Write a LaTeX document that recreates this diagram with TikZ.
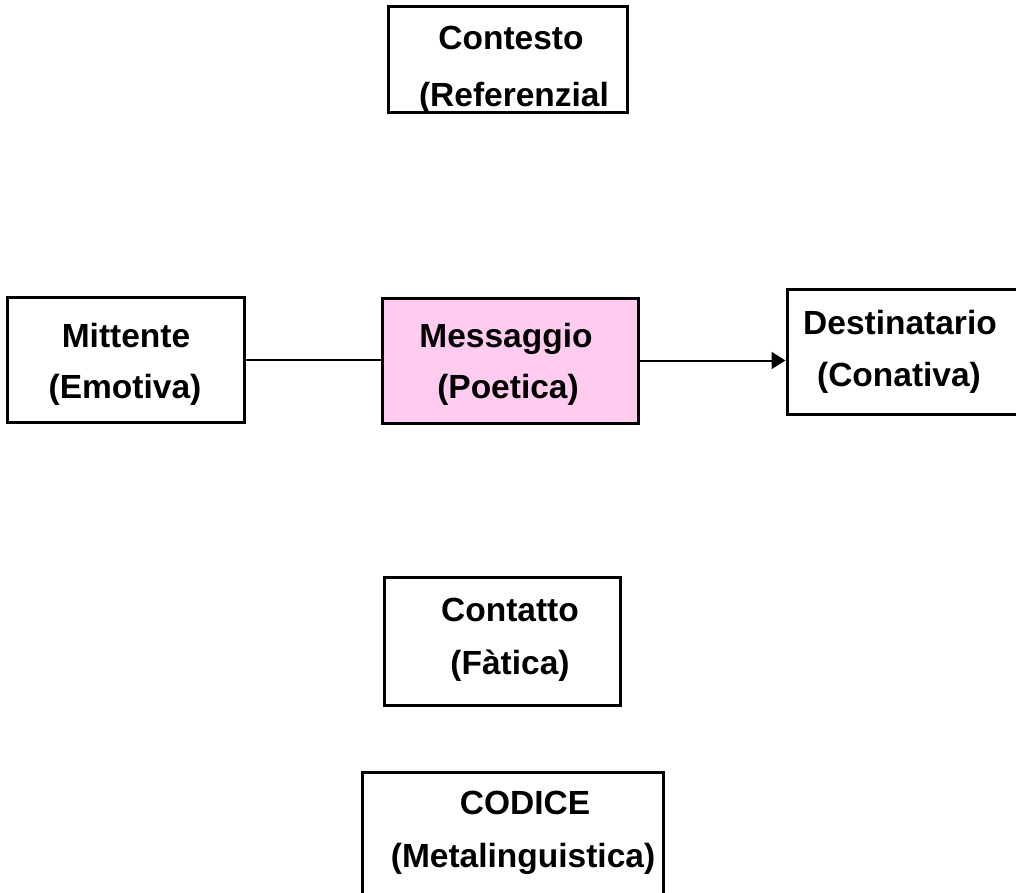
\documentclass[tikz,border=0pt]{standalone}
\usepackage{fontspec}
\setmainfont{Liberation Sans}
\usetikzlibrary{arrows.meta}
\definecolor{msgpink}{RGB}{255,204,240}
\tikzset{
  fbox/.style={draw=black, line width=3pt, rectangle, inner sep=0pt},
  lbl/.style={anchor=base, inner sep=0pt, font=\fontsize{33.5}{33.5}\selectfont\bfseries},
  conn/.style={draw=black, line width=2pt},
}
\begin{document}
\begin{tikzpicture}[x=1pt, y=-1pt]
  \clip (0,0) rectangle (1016,892);
  \fill[white] (0,0) rectangle (1016,892);

  % context box (text cut at the bottom border)
  \begin{scope}
    \clip (388,6) rectangle (627,112);
    \node[lbl] (ctx1) at (511,49) {Contesto};
    \node[lbl] (ctx2) at (514,106) {(Referenzial};
  \end{scope}
  \node[fbox, minimum width=239pt, minimum height=106pt] (ctx) at (507.5,59) {};

  % sender, message, receiver
  \node[fbox, minimum width=237pt, minimum height=125pt] (mit) at (125.5,359.5) {};
  \node[lbl] (mit1) at (126,347) {Mittente};
  \node[lbl] (mit2) at (125,398) {(Emotiva)};

  \node[fbox, fill=msgpink, minimum width=256pt, minimum height=125pt] (mes) at (510,360.5) {};
  \node[lbl] (mes1) at (506,347) {Messaggio};
  \node[lbl] (mes2) at (508,398) {(Poetica)};

  \node[fbox, minimum width=243pt, minimum height=125pt] (des) at (908.5,351.5) {};
  \node[lbl] (des1) at (900,334) {Destinatario};
  \node[lbl] (des2) at (899,386) {(Conativa)};

  % contact
  \node[fbox, minimum width=236pt, minimum height=128pt] (cnt) at (502,641) {};
  \node[lbl] (cnt1) at (510,621) {Contatto};
  \node[lbl] (cnt2) at (510,674) {(Fàtica)};

  % code
  \node[fbox, minimum width=301pt, minimum height=133pt] (cod) at (512.5,838.5) {};
  \node[lbl] (cod1) at (525,814) {CODICE};
  \node[lbl] (cod2) at (523,867) {(Metalinguistica)};

  % connectors
  \draw[conn] (mit.east) -- (mit.east -| mes.west);
  \draw[conn, -{Triangle[length=14pt, width=17pt]}] (mes.east) -- (mes.east -| des.west);
\end{tikzpicture}
\end{document}
